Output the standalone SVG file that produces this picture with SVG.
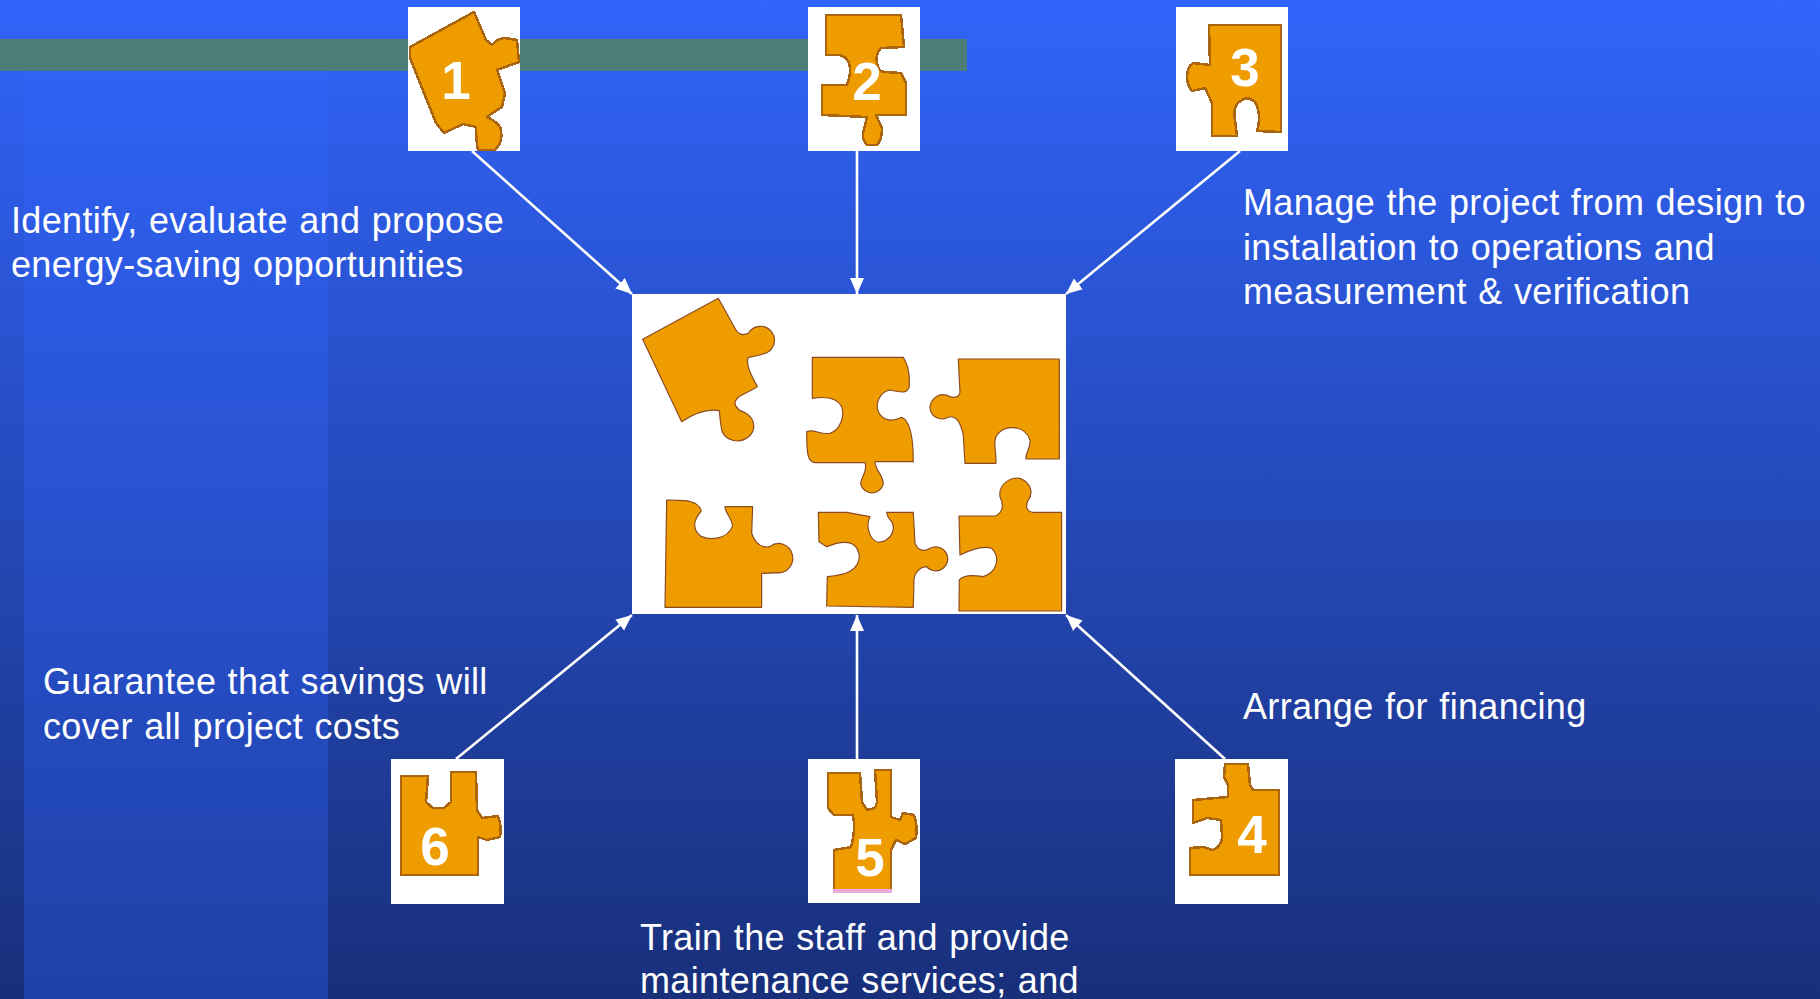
<svg xmlns="http://www.w3.org/2000/svg" width="1820" height="999" viewBox="0 0 1820 999">
<style>
.t{font-family:"Liberation Sans",Arial,sans-serif;font-size:36px;letter-spacing:.35px;word-spacing:1px;fill:#fff}
.n{font-family:"Liberation Sans",Arial,sans-serif;font-size:53px;font-weight:700;fill:#fff;text-anchor:middle}
.p{fill:#ef9c00;stroke:#a9650f;stroke-width:2.5;stroke-linejoin:round;shape-rendering:crispEdges}
.c{fill:#ef9c00;stroke:#8a4a22;stroke-width:3.5;stroke-linejoin:round}
.b{fill:#fff}
.a{stroke:#fff;stroke-width:2.6;fill:none;marker-end:url(#ah)}
</style>
<defs>
<linearGradient id="bg" x1="0" y1="0" x2="0" y2="1"><stop offset="0" stop-color="#3164fa"/><stop offset="1" stop-color="#182f7a"/></linearGradient>
<linearGradient id="st" gradientUnits="userSpaceOnUse" x1="0" y1="0" x2="0" y2="999"><stop offset="0" stop-color="#3164fa"/><stop offset="1" stop-color="#1f40a6"/></linearGradient>
<marker id="ah" markerUnits="userSpaceOnUse" markerWidth="18" markerHeight="16" refX="16" refY="8" orient="auto"><path d="M0 1 L16 8 L0 15 Z" fill="#fff"/></marker>
</defs>
<rect width="1820" height="999" fill="url(#bg)"/>
<rect x="24" y="71" width="304" height="928" fill="url(#st)"/>
<rect x="0" y="39" width="967" height="32" fill="#4d7d78"/>
<g id="connectors">
<line class="a" x1="472" y1="151" x2="632" y2="294"/>
<line class="a" x1="857" y1="151" x2="857" y2="294"/>
<line class="a" x1="1240" y1="151" x2="1066" y2="294"/>
<line class="a" x1="456" y1="759" x2="632" y2="615"/>
<line class="a" x1="857" y1="759" x2="857" y2="615"/>
<line class="a" x1="1225" y1="759" x2="1066" y2="615"/>
</g>
<g id="center">
<rect class="b" x="632" y="294" width="434" height="320"/>
<g transform="translate(620 280) scale(.3333)">
<path class="c" d="M68 178 L295 55 L345 145 Q358 172 385 160 A42 42 0 1 1 430 222 Q400 230 385 232 C375 250 395 290 412 320 C385 340 345 345 345 372 Q350 390 375 398 A49 45 0 1 1 305 450 Q300 420 298 392 C260 385 215 405 185 425 Z"/>
<path class="c" d="M577 232 L850 232 C860 250 870 270 868 320 C860 345 840 335 810 330 C780 335 765 370 775 395 C790 425 820 425 845 412 C865 420 880 450 880 545 L765 545 C765 570 790 585 790 612 A35 35 0 0 1 722 612 C722 590 745 575 735 548 L585 548 C565 545 560 530 560 455 C580 445 600 465 630 460 C660 450 675 410 665 380 C650 350 610 350 577 355 Z"/>
<path class="c" d="M1015 237 L1318 237 L1318 537 L1218 537 C1215 520 1235 500 1230 480 C1215 435 1160 435 1135 460 C1115 480 1130 510 1128 550 L1035 550 L1030 465 C1020 420 1005 405 985 412 C960 425 930 410 930 380 C935 350 965 335 990 350 C1005 355 1020 350 1020 335 Z"/>
<path class="c" d="M140 660 L195 662 C225 665 245 680 243 695 C220 720 215 750 245 770 C270 780 320 780 337 740 C340 720 315 700 315 680 L398 680 L395 760 C405 790 425 805 450 800 A42 44 0 1 1 470 878 Q445 880 425 880 L425 982 L135 982 Z"/>
<path class="c" d="M595 697 L680 697 L750 710 C735 740 750 780 775 787 C810 785 830 750 815 725 C800 710 800 695 800 697 L880 697 L885 790 C895 815 915 815 930 805 A36 36 0 1 1 920 860 C900 860 882 880 882 900 L880 982 L620 978 L622 890 C670 885 720 875 718 825 C710 780 670 780 620 800 L597 785 Z"/>
<path class="c" d="M1017 708 L1125 708 C1145 700 1155 680 1140 650 C1135 610 1175 590 1200 595 C1235 610 1240 640 1225 660 C1215 680 1220 695 1240 697 L1325 697 L1325 993 L1017 993 L1018 900 C1030 885 1060 885 1090 890 C1135 875 1140 830 1115 805 C1085 795 1050 810 1020 825 Z"/>
</g>
</g>
<g id="node1">
<rect class="b" x="408" y="7" width="112" height="144"/>
<path class="p" d="M410 47 L474 12 L486 40 L492 45 Q498 38 505 38 L517 40 L519 62 L497 70 L505 93 L502 107 L487 117 Q502 124 501 132 Q503 142 495 150 L478 150 Q476 140 476 127 L463 124 L444 133 L436 123 L410 58 Z"/>
<text class="n" x="456" y="99">1</text>
</g>
<g id="node2">
<rect class="b" x="808" y="7" width="112" height="144"/>
<path class="p" d="M826 15 L901 15 L904 47 L881 48 Q875 55 877 63 Q878 72 885 72 L901 73 L906 83 L906 115 L876 115 L882 128 Q882 140 877 145 L867 145 Q862 140 863 133 L867 117 L822 115 L822 85 L847 85 Q852 72 849 63 Q845 55 838 55 L826 55 Z"/>
<text class="n" x="867" y="100">2</text>
</g>
<g id="node3">
<rect class="b" x="1176" y="7" width="112" height="144"/>
<path class="p" d="M1209 25 L1281 25 L1281 132 L1257 131 Q1262 115 1255 102 Q1248 96 1242 100 Q1232 105 1235 120 L1237 136 L1212 136 L1212 103 L1205 88 L1192 91 Q1187 85 1187 77 Q1187 67 1193 63 L1210 65 Z"/>
<text class="n" x="1245" y="86">3</text>
</g>
<g id="node4">
<rect class="b" x="1175" y="759" width="113" height="145"/>
<path class="p" d="M1225 764 L1248 764 L1250 785 L1253 790 L1279 790 L1279 875 L1190 875 L1190 848 L1203 847 L1213 850 Q1223 845 1222 835 L1221 820 L1207 818 L1193 823 L1193 800 L1228 797 L1228 785 L1224 777 Z"/>
<text class="n" x="1252" y="853">4</text>
</g>
<g id="node5">
<rect class="b" x="808" y="759" width="112" height="144"/>
<path class="p" d="M828 773 L860 773 L862 802 L867 810 L875 808 L877 802 L875 770 L891 770 L891 817 L900 820 L903 813 L914 815 Q918 826 916 838 L905 844 L896 840 L891 850 L891 890 L834 890 L834 850 L851 847 Q856 830 853 815 L834 815 L828 808 Z"/>
<rect x="833" y="889" width="59" height="4" fill="#eaaadc"/>
<text class="n" x="870" y="876">5</text>
</g>
<g id="node6">
<rect class="b" x="391" y="759" width="113" height="145"/>
<path class="p" d="M401 776 L428 776 L426 802 L433 808 L444 808 L451 802 L451 772 L476 772 L477 810 L482 818 L498 816 Q502 826 500 837 L487 840 L478 837 L478 875 L401 875 Z"/>
<text class="n" x="435" y="865">6</text>
</g>
<g id="labels">
<text class="t" x="11" y="233">Identify, evaluate and propose</text>
<text class="t" x="11" y="277">energy-saving opportunities</text>
<text class="t" x="1243" y="215">Manage the project from design to</text>
<text class="t" x="1243" y="260">installation to operations and</text>
<text class="t" x="1243" y="304">measurement &amp; verification</text>
<text class="t" x="43" y="694">Guarantee that savings will</text>
<text class="t" x="43" y="739">cover all project costs</text>
<text class="t" x="1243" y="719">Arrange for financing</text>
<text class="t" x="640" y="950">Train the staff and provide</text>
<text class="t" x="640" y="993">maintenance services; and</text>
</g>
</svg>
